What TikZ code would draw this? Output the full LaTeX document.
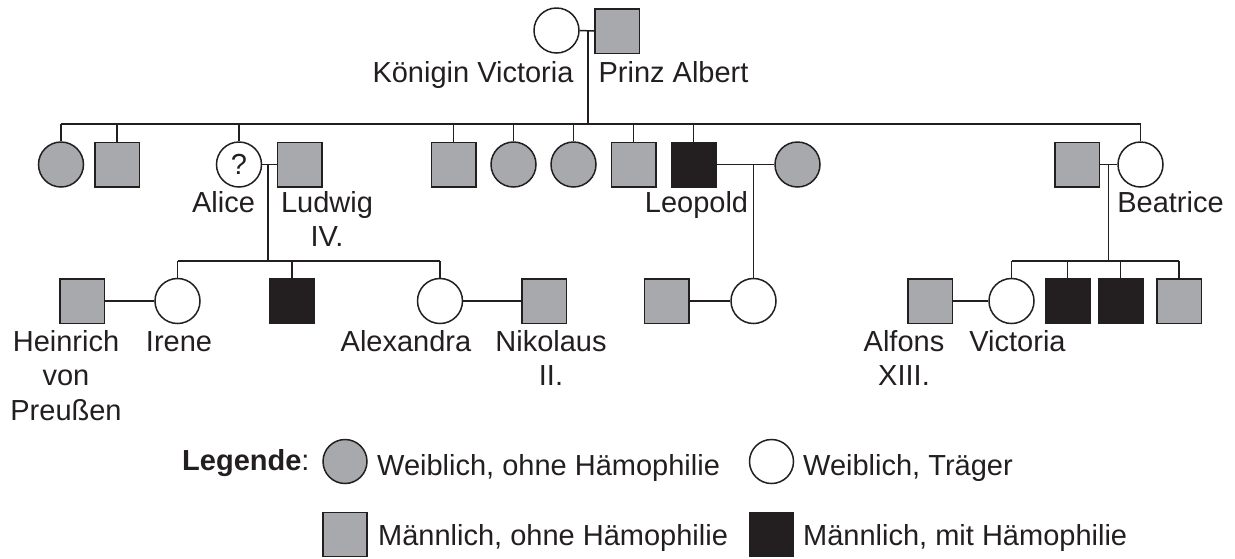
\documentclass[tikz,border=0pt]{standalone}
\usepackage{fontspec}
\setmainfont{Liberation Sans}
\usetikzlibrary{calc}
\definecolor{ink}{HTML}{231F20}
\definecolor{greyfill}{HTML}{A7A9AC}
\begin{document}
\begin{tikzpicture}[x=1pt,y=-1pt,
  fem/.style={circle,draw=ink,line width=1.5pt,minimum size=45pt,inner sep=0pt},
  mal/.style={rectangle,draw=ink,line width=1.5pt,minimum size=44.5pt,inner sep=0pt},
  healthy/.style={fill=greyfill},
  carrier/.style={fill=white},
  affected/.style={fill=ink},
  lbl/.style={inner sep=0pt,text=ink,font=\fontsize{29}{34.5}\selectfont,align=center,anchor=base},
  txt/.style={inner sep=0pt,text=ink,font=\fontsize{29}{34.5}\selectfont,anchor=base west},
  link/.style={draw=ink,line width=1.5pt}]
\useasboundingbox[fill=white] (0,0) rectangle (1235,558);

% ---------- generation 1 ----------
\node[fem,carrier] (vic) at (556.5,30.5) {};
\node[mal,healthy] (alb) at (617,31) {};
\coordinate (m1) at (588,31);
\coordinate (s1) at (588,124);
\node[lbl] (lvic) at (473,82) {Königin Victoria};
\node[lbl] (lalb) at (673.5,82) {Prinz Albert};

% ---------- generation 2 ----------
\node[fem,healthy] (c1) at (61,164.5) {};
\node[mal,healthy] (c2) at (117,164.5) {};
\node[fem,carrier,text=ink,font=\fontsize{29}{34.5}\selectfont] (alice) at (239,164.5) {?};
\node[mal,healthy] (ludwig) at (299.5,164.5) {};
\node[mal,healthy] (c5) at (453.5,164.5) {};
\node[fem,healthy] (c6) at (513.5,164.5) {};
\node[fem,healthy] (c7) at (573.5,164.5) {};
\node[mal,healthy] (c8) at (633.5,164.5) {};
\node[mal,affected] (leopold) at (693.5,164.5) {};
\node[fem,healthy] (helena) at (797.5,164.5) {};
\node[mal,healthy] (henry) at (1077,164.5) {};
\node[fem,carrier] (beatrice) at (1140.5,164.5) {};

\node[lbl] (lalice) at (223.5,212) {Alice};
\node[lbl] (lludwig) at (327,246.5) {Ludwig\\IV.};
\node[lbl] (lleopold) at (696.5,212) {Leopold};
\node[lbl] (lbeatrice) at (1170.5,212) {Beatrice};

\coordinate (m2) at (268,164.5);
\coordinate (s2) at (268,261);
\coordinate (m3) at (753.5,164.5);
\coordinate (m4) at (1108.5,164.5);
\coordinate (s4) at (1108.5,261);

% ---------- generation 3 ----------
\node[mal,healthy] (heinrich) at (82,301) {};
\node[fem,carrier] (irene) at (177.5,301) {};
\node[mal,affected] (son) at (292,301) {};
\node[fem,carrier] (alexandra) at (440,301) {};
\node[mal,healthy] (nikolaus) at (544,301) {};
\node[mal,healthy] (alexander) at (666.5,301) {};
\node[fem,carrier] (alicea) at (753.5,301) {};
\node[mal,healthy] (alfons) at (930,301) {};
\node[fem,carrier] (victoria) at (1011.5,301) {};
\node[mal,affected] (b1) at (1067.5,301) {};
\node[mal,affected] (b2) at (1120.5,301) {};
\node[mal,healthy] (b3) at (1179,301) {};

\node[lbl] (lheinrich) at (66,420) {Heinrich\\von\\Preußen};
\node[lbl] (lirene) at (179,351) {Irene};
\node[lbl] (lalexandra) at (406,351) {Alexandra};
\node[lbl] (lnikolaus) at (551,385.5) {Nikolaus\\II.};
\node[lbl] (lalfons) at (904,385.5) {Alfons\\XIII.};
\node[lbl] (lvictoria) at (1017.5,351) {Victoria};

% ---------- connectors ----------
\draw[link] (vic.east) -- (alb.west);
\draw[link] (m1) -- (s1);
\draw[link] (c1.north |- s1) -- (beatrice.north |- s1);
\foreach \n in {c1,c2,alice,c5,c6,c7,c8,leopold,beatrice}
  \draw[link] (\n.north |- s1) -- (\n.north);

\draw[link] (alice.east) -- (ludwig.west);
\draw[link] (m2) -- (s2);
\draw[link] (irene.north |- s2) -- (alexandra.north |- s2);
\foreach \n in {irene,son,alexandra}
  \draw[link] (\n.north |- s2) -- (\n.north);

\draw[link] (leopold.east) -- (helena.west);
\draw[link] (m3) -- (alicea.north);

\draw[link] (henry.east) -- (beatrice.west);
\draw[link] (m4) -- (s4);
\draw[link] (victoria.north |- s4) -- (b3.north |- s4);
\foreach \n in {victoria,b1,b2,b3}
  \draw[link] (\n.north |- s4) -- (\n.north);

\draw[link] (heinrich.east) -- (irene.west);
\draw[link] (alexandra.east) -- (nikolaus.west);
\draw[link] (alexander.east) -- (alicea.west);
\draw[link] (alfons.east) -- (victoria.west);

% ---------- legend ----------
\node[txt] (leg) at (182,470) {\textbf{Legende}:};
\node[fem,healthy,minimum size=44pt] (kf1) at (345,461.5) {};
\node[txt] (tf1) at (377,475) {Weiblich, ohne Hämophilie};
\node[fem,carrier,minimum size=44pt] (kf2) at (771.5,461.5) {};
\node[txt] (tf2) at (803,475) {Weiblich, Träger};
\node[mal,healthy,minimum size=44pt] (km1) at (345,534.5) {};
\node[txt] (tm1) at (378,545) {Männlich, ohne Hämophilie};
\node[mal,affected,minimum size=44pt] (km2) at (771.5,534.5) {};
\node[txt] (tm2) at (803,545) {Männlich, mit Hämophilie};
\end{tikzpicture}
\end{document}
